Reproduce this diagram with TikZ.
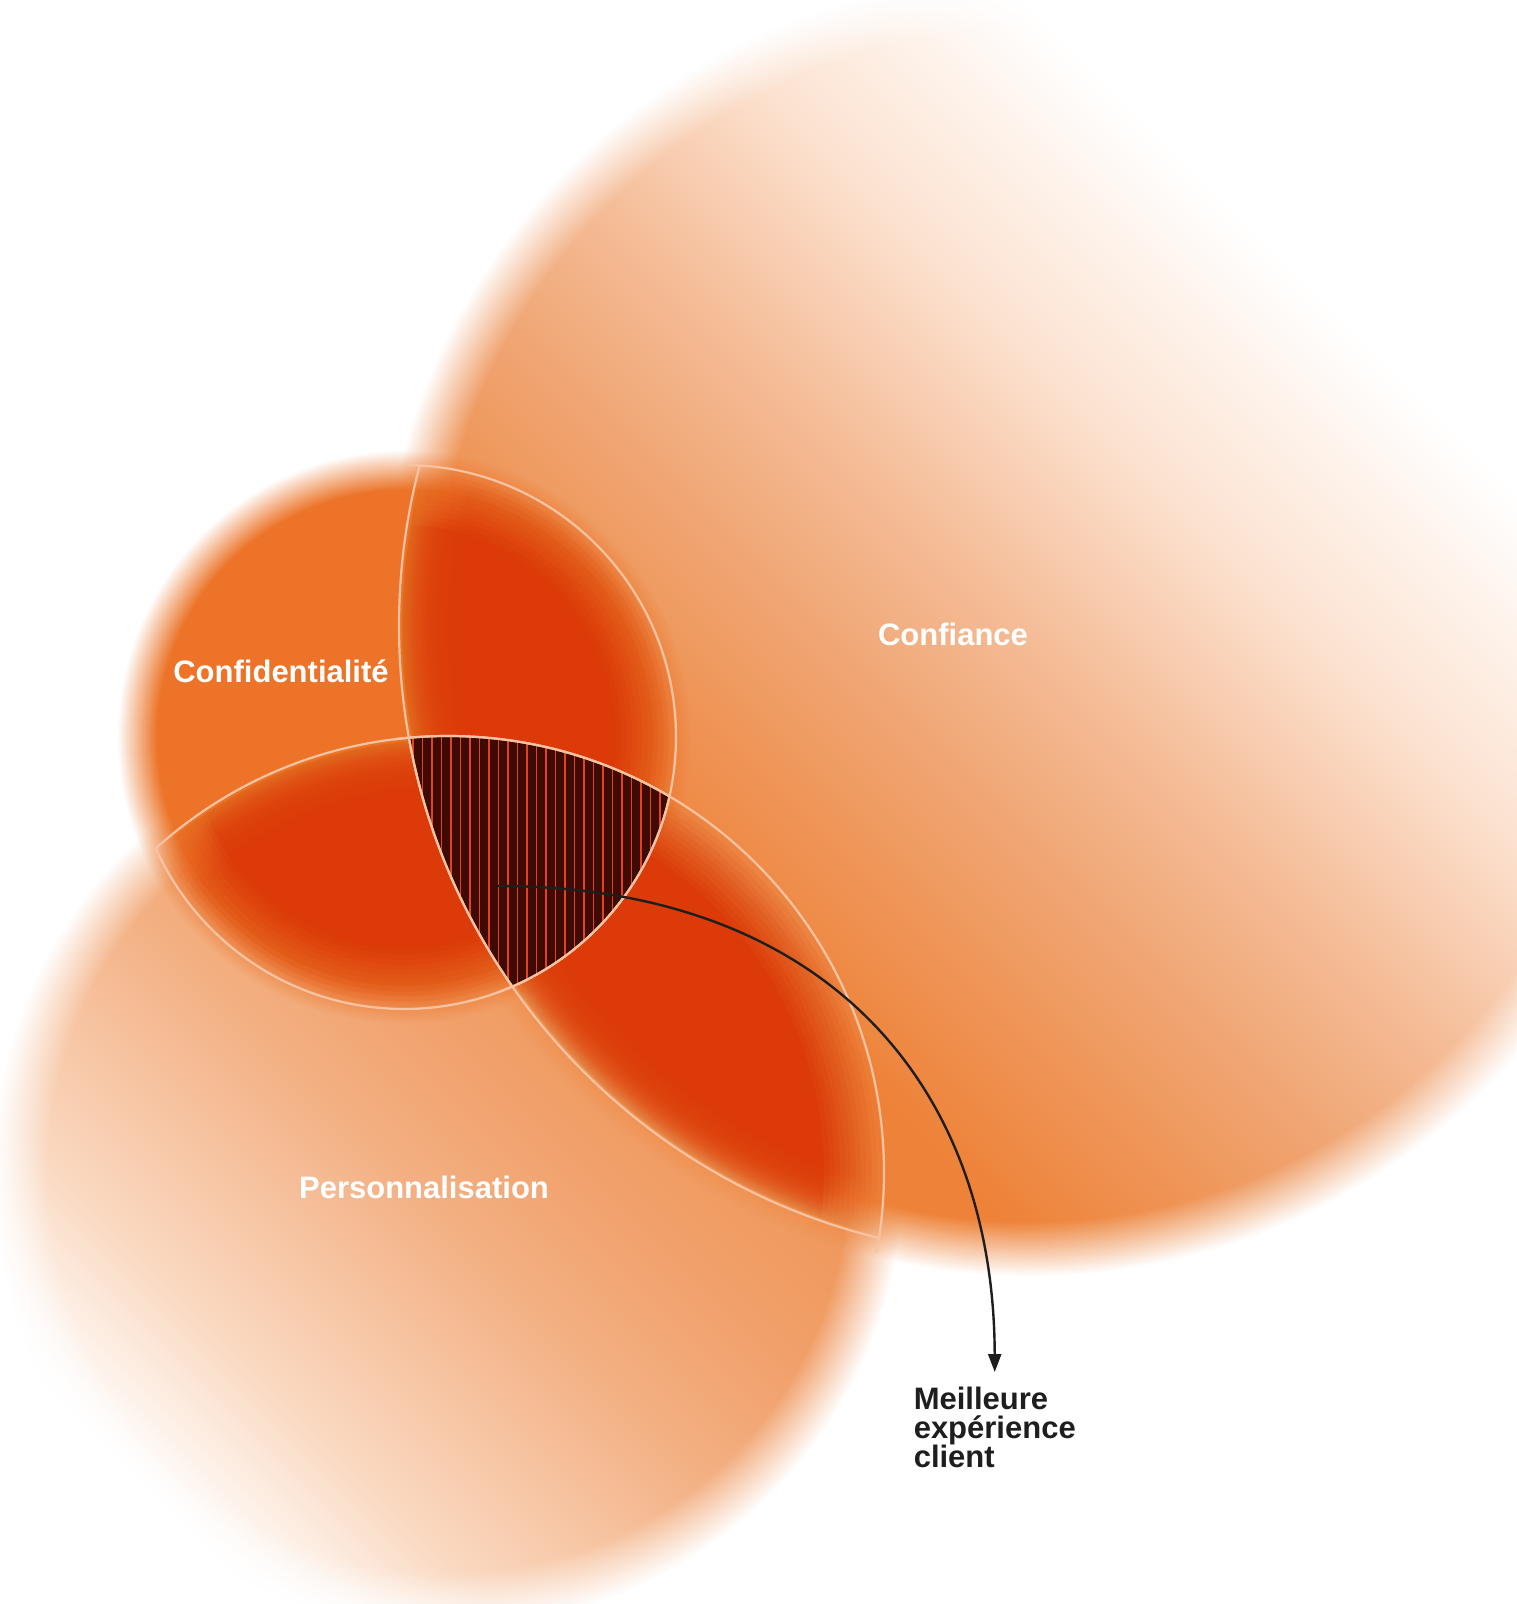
\documentclass[tikz,border=0pt]{standalone}
\usepackage{fontspec}
\newfontfamily\labelfont{Liberation Sans}
\usetikzlibrary{fadings,arrows.meta}

\definecolor{privacyorange}{RGB}{236,115,39}
\definecolor{overlapred}{RGB}{220,59,9}
\definecolor{trustorange}{RGB}{238,130,56}
\definecolor{trustmid}{RGB}{240,166,116}
\definecolor{trustlight}{RGB}{245,189,152}
\definecolor{trustpale}{RGB}{252,226,208}
\definecolor{persoorange}{RGB}{239,141,74}
\definecolor{persomid}{RGB}{241,160,106}
\definecolor{persolight}{RGB}{243,176,131}
\definecolor{persopale}{RGB}{250,216,192}
\definecolor{coredark}{RGB}{62,10,2}
\definecolor{corestripe}{RGB}{226,67,26}
\definecolor{rimline}{RGB}{247,195,163}
\definecolor{inkblack}{RGB}{30,30,30}

% colour ramps (bottom to top, turned by the shading angle)
\pgfdeclareverticalshading{trustshade}{100bp}{color(0bp)=(trustorange); color(33bp)=(trustorange); color(44bp)=(trustmid); color(50bp)=(trustlight); color(57.5bp)=(trustpale); color(67bp)=(white); color(100bp)=(white)}
\pgfdeclareverticalshading{persoshade}{100bp}{color(0bp)=(white); color(26bp)=(white); color(35bp)=(persopale); color(48bp)=(persolight); color(56bp)=(persomid); color(73bp)=(persoorange); color(100bp)=(persoorange)}

% soft round fading: name, opaque radius, clear radius (pt)
\newcommand{\softdisc}[3]{%
  \pgfdeclareradialshading{#1shade}{\pgfpointorigin}{color(0pt)=(white); color(#2pt)=(white); color(#3pt)=(black); color(400pt)=(black)}%
  \pgfdeclarefading{#1}{\pgfuseshading{#1shade}}}

\softdisc{softprivacy}{123.5}{143.5}
\softdisc{softperso}{200}{228}
\softdisc{softtrust}{297.5}{325}
\softdisc{coreperso}{188}{217}
\softdisc{coretrust}{285}{314}

% red lens: clip circle (centre, clear r, opaque r), faded circle (fading, centre, r)
\newcommand{\redlens}[6]{%
  \foreach \k in {1,...,12}{%
    \begin{scope}
      \clip (#1) circle ({#2-(\k-1)*(#2-#3)/11});
      \fill[overlapred, fill opacity={1/(13-\k)}, path fading=#4, fit fading=false,
        fading transform={shift={(#5)}}] (#5) circle (#6);
    \end{scope}}}

\tikzset{every picture/.style={line width=0.75pt}}
\tikzset{
  rim/.style={draw=rimline, line width=1.1pt},
  stripe/.style={draw=corestripe, line width=0.55pt},
  venntext/.style={font=\labelfont\bfseries\fontsize{15.5}{15.5}\selectfont, text=white, inner sep=0pt},
  resulttext/.style={font=\labelfont\bfseries\fontsize{15.5}{14.6}\selectfont, text=inkblack, inner sep=0pt, align=left},
  pointer/.style={draw=inkblack, line width=1.2pt, -{Triangle[length=9pt,width=6.5pt]}}
}

\begin{document}
\begin{tikzpicture}[x=0.5pt,y=0.5pt,yscale=-1,xscale=1]
\fill[white] (0,0) rectangle (1516,1604);
\useasboundingbox (0,0) rectangle (1516,1604);

\coordinate (trust) at (1029,626);
\coordinate (privacy) at (404,737);
\coordinate (perso) at (448,1172);

%Shape: Circle (Personnalisation)
\shade[shading=persoshade, shading angle=-45,
  path fading=softperso, fit fading=false, fading transform={shift={(perso)}}] (perso) circle (456);
%Shape: Circle (Confiance)
\shade[shading=trustshade, shading angle=-45,
  path fading=softtrust, fit fading=false, fading transform={shift={(trust)}}] (trust) circle (650);
%Shape: Circle (Confidentialite)
\fill[privacyorange, path fading=softprivacy, fit fading=false, fading transform={shift={(privacy)}}] (privacy) circle (287);

%Overlaps
\redlens{privacy}{270}{212}{coretrust}{trust}{628}
\redlens{privacy}{270}{212}{coreperso}{perso}{434}
\redlens{perso}{434}{376}{coretrust}{trust}{628}

%Hatched core
\begin{scope}
  \clip (privacy) circle (272);
  \clip (perso) circle (436);
  \clip (trust) circle (630);
  \fill[coredark] (400,720) rectangle (680,1000);
  \foreach \x in {413,422.5,...,675} \draw[stripe] (\x,720) -- (\x,1000);
\end{scope}

%Outlines
\begin{scope}
  \clip (trust) circle (645);
  \draw[rim] (privacy) circle (272);
  \draw[rim] (perso) circle (436);
\end{scope}
\begin{scope}
  \clip (privacy) circle (272);
  \draw[rim] (trust) circle (630);
  \draw[rim] (perso) circle (436);
\end{scope}
\begin{scope}
  \clip (perso) circle (436);
  \draw[rim] (trust) circle (630);
  \draw[rim] (privacy) circle (272);
\end{scope}

% Text Node
\node[venntext] (trustlabel) at (953,634) {Confiance};
% Text Node
\node[venntext] (privacylabel) at (281,671) {Confidentialité};
% Text Node
\node[venntext] (persolabel) at (424,1187) {Personnalisation};
% Text Node
\node[resulttext, anchor=north west] (result) at (913,1386) {Meilleure\\expérience\\client};

%Curve Lines
\coordinate (core) at (498,886);
\draw[pointer] (core) .. controls (820,886) and (994,1080) .. ([yshift=-7pt]result.north);

\end{tikzpicture}
\end{document}
